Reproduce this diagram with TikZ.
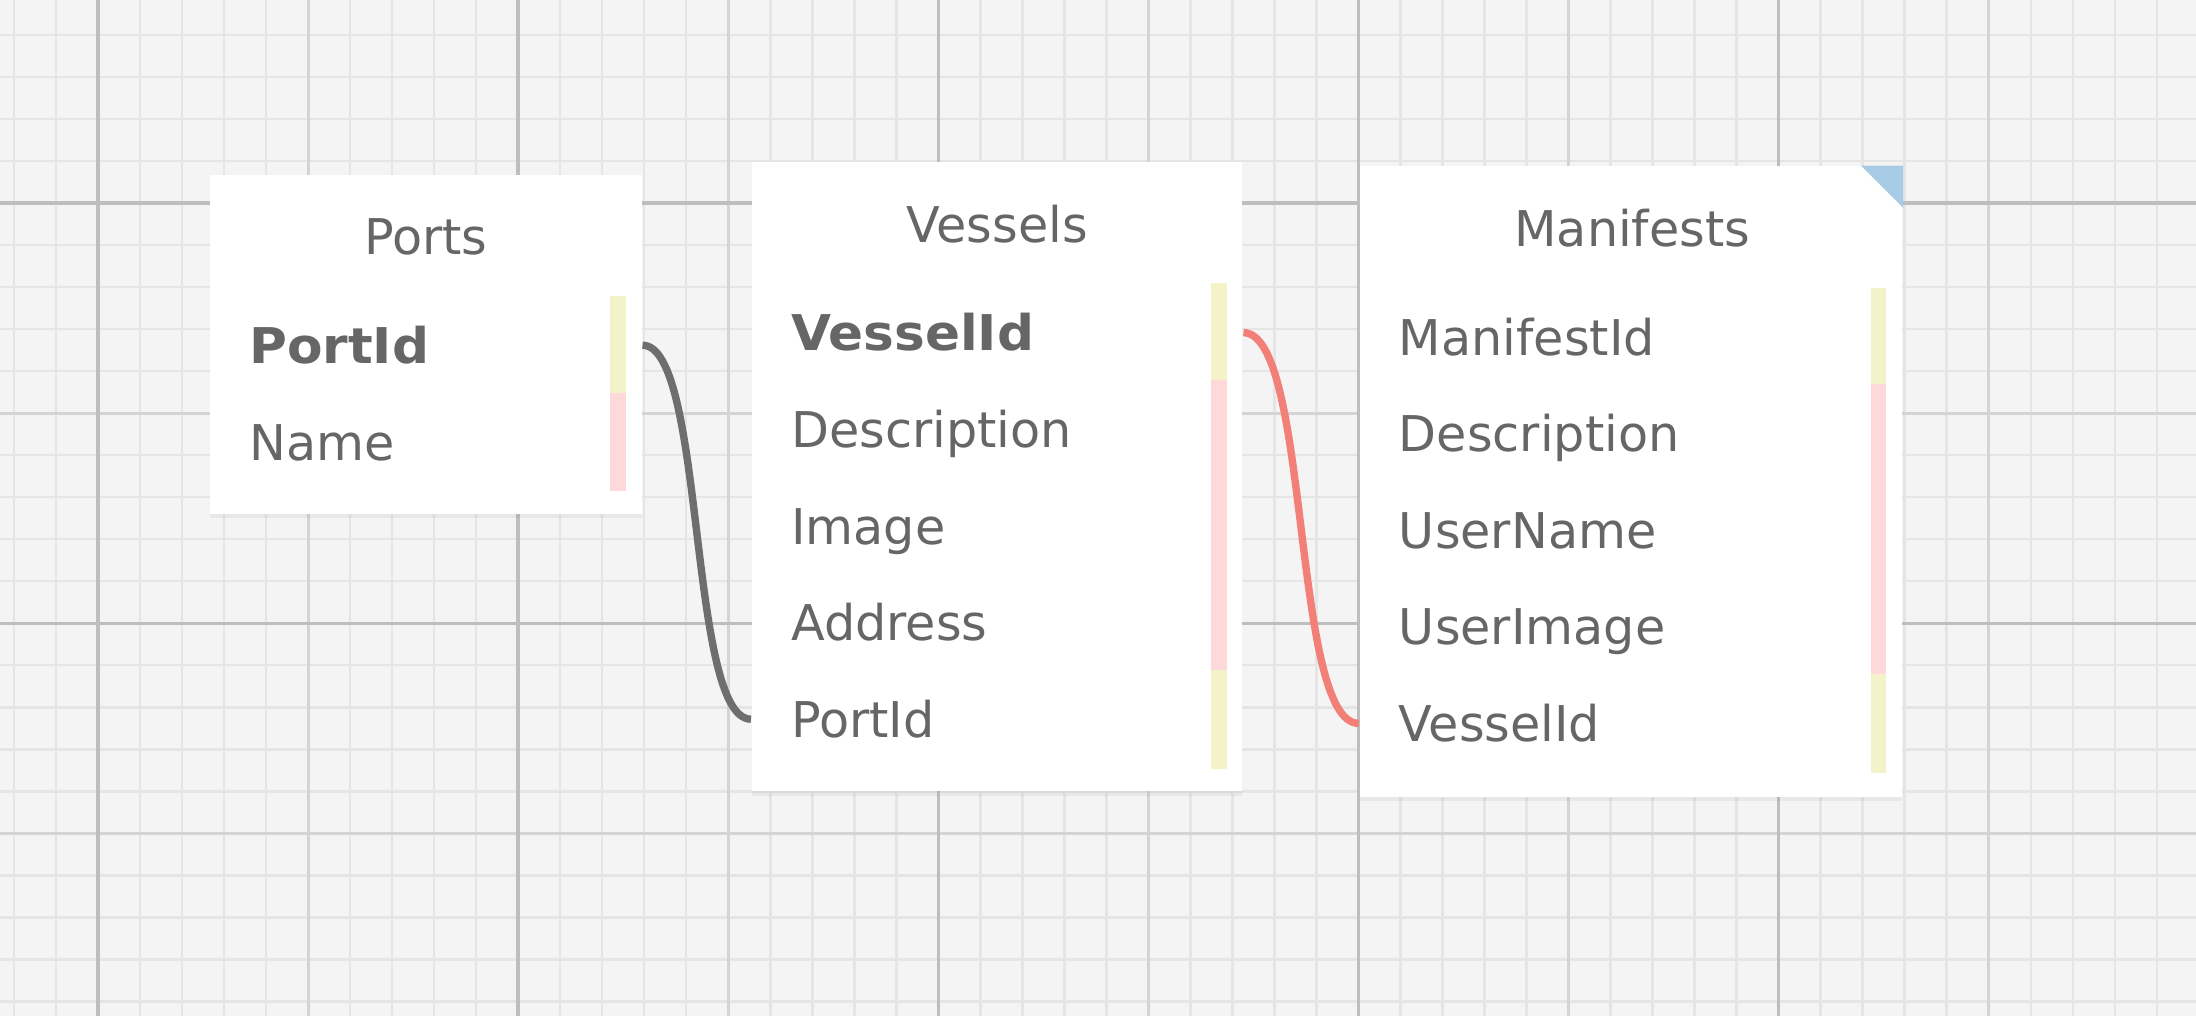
\documentclass[tikz,border=0pt]{standalone}
\usepackage{fontspec}
\setmainfont{DejaVu Sans}[BoldFeatures={FakeStretch=1.05}]
\usepackage{tikz}
\usetikzlibrary{shadows}
\usepackage{xcolor}
\definecolor{gridbg}{RGB}{244,244,244}
\definecolor{gridminor}{RGB}{229,229,229}
\definecolor{gridmid}{RGB}{212,212,212}
\definecolor{gridmajor}{RGB}{190,190,190}
\definecolor{ertext}{RGB}{102,102,102}
\definecolor{erkey}{RGB}{243,242,200}
\definecolor{erfield}{RGB}{255,217,217}
\definecolor{ercorner}{RGB}{168,203,230}
\definecolor{ergray}{RGB}{110,110,110}
\definecolor{erred}{RGB}{242,128,120}
\tikzstyle{link} = [line width=1.5pt,color=ergray]

\begin{document}
\begin{tikzpicture}[
    x=0.01cm, y=-0.01cm,
    every node/.style={font=\fontsize{10}{12}\selectfont, text=ertext},
    tablebox/.style={rectangle, fill=white, inner sep=0pt, drop shadow={shadow xshift=0cm, shadow yshift=-0.03cm, opacity=0.1}},
    tabletitle/.style={anchor=base, inner sep=0pt},
    fieldrow/.style={rectangle, inner xsep=0.28cm, inner ysep=0pt, minimum height=0.69cm, text width=#1, align=left, text height=9.9pt, text depth=2.5pt}
]
\useasboundingbox (0,0) rectangle (1568,725.4);

% Grid paper
\fill[gridbg] (0,0) rectangle (1568,725.4);
\foreach \x in {10,40,...,1560} \draw[gridminor, line width=0.5pt] (\x,0) -- (\x,725.4);
\foreach \y in {25,55,...,715} \draw[gridminor, line width=0.5pt] (0,\y) -- (1568,\y);
\foreach \x in {220,520,...,1420} \draw[gridmid, line width=0.6pt] (\x,0) -- (\x,725.4);
\foreach \y in {295,595} \draw[gridmid, line width=0.6pt] (0,\y) -- (1568,\y);
\foreach \x in {70,370,...,1270} \draw[gridmajor, line width=0.7pt] (\x,0) -- (\x,725.4);
\foreach \y in {145,445} \draw[gridmajor, line width=0.7pt] (0,\y) -- (1568,\y);

% Tables
\node[tablebox, minimum width=3.08cm, minimum height=2.42cm] (ports) at (304,246) {};
\node[tablebox, minimum width=3.5cm, minimum height=4.49cm] (vessels) at (712,340.5) {};
\node[tablebox, minimum width=3.87cm, minimum height=4.5cm] (manifests) at (1164.5,344) {};
\fill[ercorner] ([xshift=-0.3cm]manifests.north east) -- (manifests.north east) -- ([yshift=-0.3cm]manifests.north east) -- cycle;

% Titles
\node[tabletitle] (portsTitle) at (304,182) {Ports};
\node[tabletitle] (vesselsTitle) at (712,173) {Vessels};
\node[tabletitle] (manifestsTitle) at (1165.5,176) {Manifests};

% Ports fields
\node[fieldrow=2.52cm] (pPortId) at (304,246.5) {\textbf{PortId}};
\node[fieldrow=2.52cm] (pName) at (304,315.5) {Name};

% Vessels fields
\node[fieldrow=2.94cm] (vVesselId) at (712,237.5) {\textbf{VesselId}};
\node[fieldrow=2.94cm] (vDescription) at (712,306.5) {Description};
\node[fieldrow=2.94cm] (vImage) at (712,375.5) {Image};
\node[fieldrow=2.94cm] (vAddress) at (712,444.5) {Address};
\node[fieldrow=2.94cm] (vPortId) at (712,513.5) {PortId};

% Manifests fields
\node[fieldrow=3.31cm] (mManifestId) at (1164.5,240.5) {ManifestId};
\node[fieldrow=3.31cm] (mDescription) at (1164.5,309.5) {Description};
\node[fieldrow=3.31cm] (mUserName) at (1164.5,378.5) {UserName};
\node[fieldrow=3.31cm] (mUserImage) at (1164.5,447.5) {UserImage};
\node[fieldrow=3.31cm] (mVesselId) at (1164.5,516.5) {VesselId};

% Key / field markers
\foreach \r/\c in {pPortId/erkey, pName/erfield,
    vVesselId/erkey, vDescription/erfield, vImage/erfield, vAddress/erfield, vPortId/erkey,
    mManifestId/erkey, mDescription/erfield, mUserName/erfield, mUserImage/erfield, mVesselId/erkey}
  \fill[\c] ([xshift=-0.23cm]\r.north east) rectangle ([xshift=-0.12cm]\r.south east);

% Relations
\draw[link] (pPortId.east) .. controls +(0.45cm,0) and +(-0.45cm,0) .. (vPortId.west);
\draw[link, erred] (vVesselId.east) .. controls +(0.48cm,0) and +(-0.48cm,0) .. (mVesselId.west);

\end{tikzpicture}
\end{document}
